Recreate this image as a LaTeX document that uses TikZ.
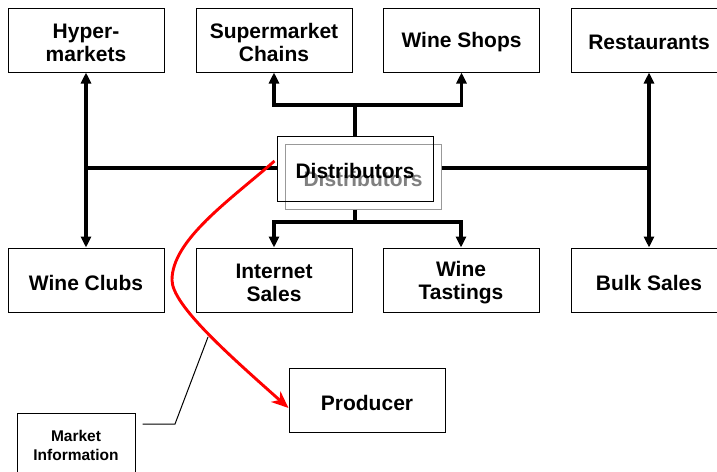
\documentclass[tikz,border=0pt]{standalone}
\usepackage{fontspec}
\setmainfont{Liberation Sans}
\usetikzlibrary{arrows.meta}
\tikzset{
  box/.style={draw=black, line width=1pt, fill=white, minimum width=156pt, minimum height=64pt, inner sep=0pt},
  lbl/.style={align=center, inner sep=0pt, yshift=-2.5pt, font=\fontsize{21}{23}\selectfont\bfseries},
  conn/.style={line width=3.1pt, black},
  arr/.style={conn, -{Triangle[length=11pt,width=10pt]}},
  darr/.style={conn, {Triangle[length=11pt,width=10pt]}-{Triangle[length=11pt,width=10pt]}},
  redarr/.style={line width=2.9pt, red, -{Stealth[length=17pt,width=14pt,inset=5pt]}},
  callout/.style={line width=1pt, black},
}
\begin{document}
\begin{tikzpicture}[x=1pt,y=-1pt]
\useasboundingbox (0,0) rectangle (717,471);
\clip (0,0) rectangle (717,471);
% nodes
\node[box, label={[lbl]center:Hyper-\\markets}] (hyp) at (86,40) {};
\node[box, label={[lbl]center:Supermarket\\Chains}] (sup) at (274,40) {};
\node[box, label={[lbl]center:Wine Shops}] (shops) at (461.5,40) {};
\node[box, label={[lbl]center:Restaurants}] (rest) at (649,40) {};
\node[box, label={[lbl]center:Wine Clubs}] (clubs) at (86,280) {};
\node[box, label={[lbl]center:Internet\\Sales}] (inet) at (274,280) {};
\node[box, label={[lbl]center:Wine\\Tastings}] (tast) at (461,280) {};
\node[box, label={[lbl]center:Bulk Sales}] (bulk) at (649,280) {};
\node[box, label={[lbl]center:Producer}] (prod) at (367,400) {};
\node[box, minimum width=118pt, minimum height=72pt] (mkt) at (76,449) {};
\node[font=\fontsize{15.5}{19}\selectfont\bfseries, align=center] (mktlbl) at (76,445.5) {Market\\Information};
% coordinates
\coordinate (busL) at (86,168);
\coordinate (busR) at (649,168);
\coordinate (tj) at (355,105);
\coordinate (bj) at (355,222);
\coordinate (knee) at (175,424);
\coordinate (tick) at (208,337);
% distributors boxes
\node[box, draw=black!40, minimum height=65pt, label={[lbl, text=black!50]center:Distributors}] (dback) at (363,176.5) {};
\node[box, fill=none, minimum height=65pt, label={[lbl]center:Distributors}] (dfront) at (355,168.5) {};
% connectors
\draw[darr] (hyp.south) -- (clubs.north);
\draw[darr] (rest.south) -- (bulk.north);
\draw[conn] (busL) -- (dfront.west |- busL);
\draw[conn] (dback.east |- busR) -- (busR);
\draw[conn] (dfront.north) -- (tj);
\draw[arr] (tj) -| (sup.south);
\draw[arr] (tj) -| (shops.south);
\draw[conn] (dfront.center |- dback.south) -- (bj);
\draw[arr] (bj) -| (inet.north);
\draw[arr] (bj) -| (tast.north);
% market information callout
\draw[callout] (mkt.east |- knee) ++(7,0) -- (knee) -- (tick);
% red flow
\draw[redarr] ([xshift=-2pt,yshift=7.5pt]dfront.west) .. controls (230,200) and (172,240) .. (172,280)
  .. controls (172,305) and (229,355) .. ([yshift=-8pt]prod.west);
\end{tikzpicture}
\end{document}
